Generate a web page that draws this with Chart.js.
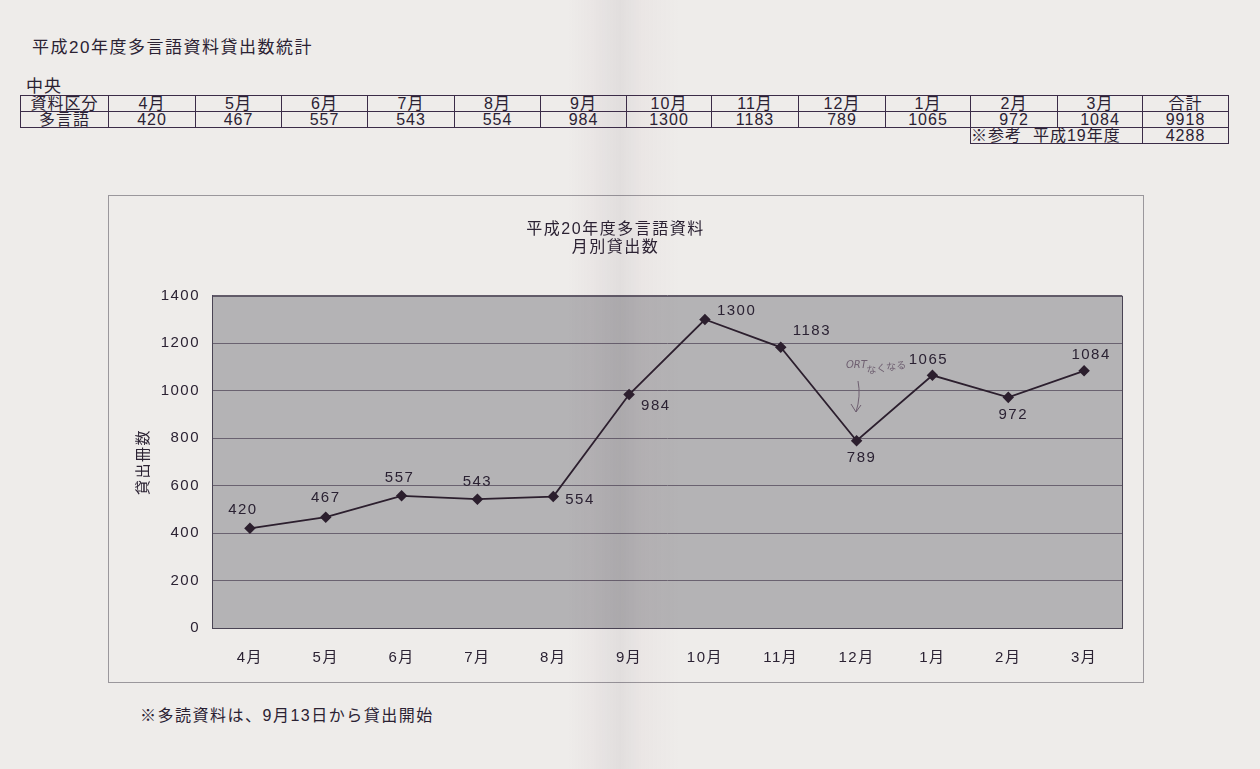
<!DOCTYPE html>
<html lang="ja">
<head>
<meta charset="utf-8">
<script src="https://cdn.jsdelivr.net/npm/chart.js@4"></script>
<style>
  html, body { margin: 0; padding: 0; }
  body {
    width: 1260px; height: 769px; position: relative; overflow: hidden;
    background: #eeecea;
    font-family: "Liberation Sans", "Noto Sans CJK JP", sans-serif;
    color: #2b2233;
  }
  .txt { position: absolute; white-space: nowrap; line-height: 1; }
  #sheet { position: absolute; left: 20px; top: 95px; border-collapse: collapse; table-layout: fixed; }
  #sheet td {
    height: 14px; padding: 1px 0 0 0; font-size: 16px; line-height: 14px; text-align: center;
    letter-spacing: 1px;
    border: 1.5px solid #3b2c48; overflow: hidden; white-space: nowrap;
  }
  #sheet td.blank { border: none; }
  #box {
    position: absolute; left: 108px; top: 195px; width: 1034px; height: 486px;
    border: 1px solid #9a979c;
  }
  #fold {
    position: absolute; left: 0; top: 0; width: 1260px; height: 769px; pointer-events: none;
    background: linear-gradient(90deg, rgba(0,0,0,0) 0%, rgba(0,0,0,0) 45%,
      rgba(120,60,90,0.03) 47%, rgba(60,40,60,0.07) 49.2%, rgba(150,90,110,0.035) 51%,
      rgba(0,0,0,0) 54%, rgba(0,0,0,0) 100%);
  }
</style>
</head>
<body>
<div class="txt" style="left:32px; top:39px; font-size:17px; letter-spacing:1.5px;">平成20年度多言語資料貸出数統計</div>
<div class="txt" style="left:26px; top:78px; font-size:17px; letter-spacing:1px;">中央</div>
<table id="sheet"></table>
<div id="box"><canvas id="c"></canvas></div>
<div class="txt" style="left:140px; top:708px; font-size:16px; letter-spacing:1.5px;">※多読資料は、9月13日から貸出開始</div>
<div id="fold"></div>
<script>
// monthly loans, FY H20 (April - March)
const months = ['4月', '5月', '6月', '7月', '8月', '9月', '10月', '11月', '12月', '1月', '2月', '3月'];
const loans = [420, 467, 557, 543, 554, 984, 1300, 1183, 789, 1065, 972, 1084];
const prevYearTotal = 4288;
const yTicks = [0, 200, 400, 600, 800, 1000, 1200, 1400];

// where each value label sits relative to its point (px)
const labelDx = [-7, 0, -2, 0, 26, 26, 29, 24, 5, -4, 5, 7];
const labelDy = [-18, -19, -18, -17, 3, 11, -9, -16, 17, -15, 18, -16];

const colWidths = [88, 87, 86, 86, 87, 86, 86, 85, 87, 87, 85, 87, 85, 86];
const ink = '#2b2233';
const fontFam = '"Liberation Sans", "Noto Sans CJK JP", sans-serif';

// table above the chart
function buildTable() {
    const t = document.getElementById('sheet');
    const cg = document.createElement('colgroup');
    colWidths.forEach(w => {
        const c = document.createElement('col');
        c.style.width = w + 'px';
        cg.appendChild(c);
    });
    t.appendChild(cg);
    const total = loans.reduce((a, b) => a + b, 0);
    const rows = [
        ['資料区分', ...months, '合計'],
        ['多言語', ...loans.map(String), String(total)]
    ];
    rows.forEach(r => {
        const tr = document.createElement('tr');
        r.forEach(v => {
            const td = document.createElement('td');
            td.textContent = v;
            tr.appendChild(td);
        });
        t.appendChild(tr);
    });
    // reference row: last year's total
    const tr = document.createElement('tr');
    for (let i = 0; i < 11; i++) {
        const td = document.createElement('td');
        td.className = 'blank';
        tr.appendChild(td);
    }
    const lab = document.createElement('td');
    lab.colSpan = 2;
    lab.style.textAlign = 'left';
    lab.innerHTML = '※参考&nbsp;&nbsp;平成19年度';
    tr.appendChild(lab);
    const val = document.createElement('td');
    val.textContent = String(prevYearTotal);
    tr.appendChild(val);
    t.appendChild(tr);
}
buildTable();

// grey plot background + border, wide text spacing like the scan
const plotBg = {
    id: 'plotBg',
    beforeDraw(chart) {
        const { ctx, chartArea: a } = chart;
        ctx.letterSpacing = '1.5px';
        ctx.save();
        ctx.fillStyle = '#b4b3b5';
        ctx.fillRect(a.left, a.top, a.right - a.left, a.bottom - a.top);
        ctx.restore();
    },
    afterDatasetsDraw(chart) {
        const { ctx, chartArea: a } = chart;
        ctx.save();
        ctx.strokeStyle = '#4a4454';
        ctx.lineWidth = 1;
        ctx.strokeRect(a.left + 0.5, a.top + 0.5, a.right - a.left, a.bottom - a.top);
        ctx.restore();
    }
};

// value labels next to each marker
const valueLabels = {
    id: 'valueLabels',
    afterDatasetsDraw(chart) {
        const { ctx } = chart;
        const meta = chart.getDatasetMeta(0);
        ctx.save();
        ctx.font = '15px ' + fontFam;
        ctx.fillStyle = ink;
        ctx.textAlign = 'center';
        ctx.textBaseline = 'middle';
        meta.data.forEach((pt, i) => {
            const dx = labelDx[i];
            const txt = String(loans[i]);
            const w = ctx.measureText(txt).width;
            // labels pushed right are anchored at their left edge
            const x = dx > 15 ? pt.x + 12 + w / 2 : pt.x + dx;
            ctx.fillText(txt, x, pt.y + labelDy[i]);
        });
        ctx.restore();
    }
};

// pencil note on the scan
const pencil = {
    id: 'pencil',
    afterDraw(chart) {
        const { ctx } = chart;
        ctx.save();
        ctx.letterSpacing = '0px';
        ctx.strokeStyle = '#6e5f70';
        ctx.fillStyle = '#6e5f70';
        ctx.lineWidth = 1;
        ctx.font = 'italic 10px "DejaVu Sans", sans-serif';
        ctx.fillText('ORT', 737, 172);
        ctx.translate(758, 178);
        ctx.rotate(-0.15);
        ctx.font = '10px "Noto Sans CJK JP", sans-serif';
        ctx.fillText('なくなる', 0, 0);
        ctx.setTransform(chart.currentDevicePixelRatio, 0, 0, chart.currentDevicePixelRatio, 0, 0);
        ctx.beginPath();
        ctx.moveTo(749, 185);
        ctx.quadraticCurveTo(752, 200, 747, 216);
        ctx.moveTo(742, 208);
        ctx.lineTo(747, 216);
        ctx.lineTo(752, 209);
        ctx.stroke();
        ctx.restore();
    }
};

new Chart(document.getElementById('c').getContext('2d'), {
    type: 'line',
    data: {
        labels: months,
        datasets: [{
            data: loans,
            borderColor: '#2c1f2e',
            backgroundColor: '#2c1f2e',
            borderWidth: 1.8,
            pointStyle: 'rectRot',
            pointRadius: 4.5,
            pointHoverRadius: 4.5,
            tension: 0
        }]
    },
    options: {
        responsive: true,
        maintainAspectRatio: false,
        animation: false,
        layout: { padding: { left: 0, right: 21, top: 0, bottom: 0 } },
        plugins: {
            legend: { display: false },
            tooltip: { enabled: false },
            title: {
                display: true,
                text: ['平成20年度多言語資料', '月別貸出数'],
                color: ink,
                font: { family: fontFam, size: 16, weight: 'normal', lineHeight: 1.15 },
                padding: { top: 24, bottom: 39 }
            }
        },
        scales: {
            x: {
                offset: true,
                grid: { display: false },
                border: { display: true, color: '#3e3846', width: 1 },
                ticks: { color: ink, padding: 13, font: { family: fontFam, size: 15 } },
                afterFit: s => { s.height = 54; }
            },
            y: {
                min: 0,
                max: 1400,
                afterBuildTicks: s => { s.ticks = yTicks.map(v => ({ value: v })); },
                grid: { color: '#6a6270', lineWidth: 1, drawTicks: false },
                border: { display: true, color: '#4a4660', width: 1 },
                ticks: {
                    color: ink, padding: 12, font: { family: fontFam, size: 15 },
                    callback: v => String(v)
                },
                title: {
                    display: true,
                    text: '貸出冊数',
                    color: ink,
                    font: { family: fontFam, size: 15 },
                    padding: { top: 26, bottom: 0 }
                },
                afterFit: s => { s.width = 103; }
            }
        }
    },
    plugins: [plotBg, valueLabels, pencil]
});
</script>
</body>
</html>
